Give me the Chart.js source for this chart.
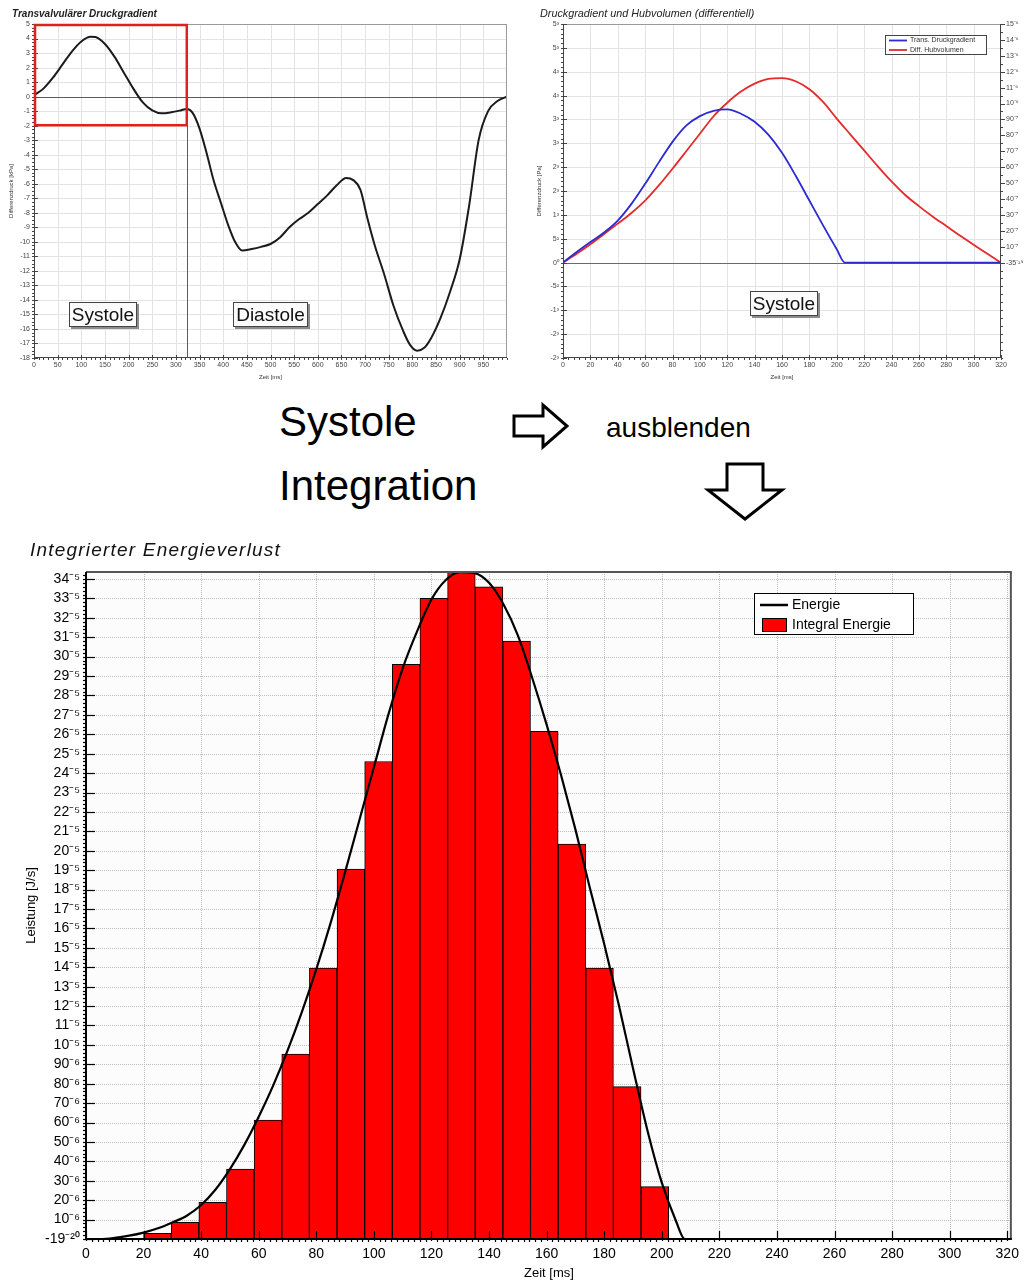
<!DOCTYPE html>
<html>
<head>
<meta charset="utf-8">
<script src="https://cdn.jsdelivr.net/npm/chart.js@4/dist/chart.umd.min.js"></script>
<style>
html,body{margin:0;padding:0;background:#ffffff;}
body{width:1026px;height:1281px;position:relative;overflow:hidden;font-family:"Liberation Sans",Arial,Helvetica,sans-serif;}
.pane{position:absolute;}
.mid{position:absolute;color:#000;font-family:"Liberation Sans",Arial,Helvetica,sans-serif;line-height:1;white-space:nowrap;}
svg{position:absolute;left:0;top:0;}
</style>
</head>
<body>
<div class="pane" style="left:0;top:0;width:520px;height:385px"><canvas id="c1"></canvas></div>
<div class="pane" style="left:530px;top:0;width:496px;height:385px"><canvas id="c2"></canvas></div>
<div class="mid" style="left:279px;top:401px;font-size:42px">Systole</div>
<div class="mid" style="left:279px;top:465px;font-size:42px">Integration</div>
<div class="mid" style="left:606px;top:414px;font-size:28px">ausblenden</div>
<svg width="1026" height="1281">
  <polygon points="514,416 543,416 543,405 567,426 543,447 543,436 514,436" fill="#fff" stroke="#000" stroke-width="3" stroke-linejoin="miter"/>
  <polygon points="727,464 763,464 763,490 782,490 745,519 708,490 727,490" fill="#fff" stroke="#000" stroke-width="3" stroke-linejoin="miter"/>
</svg>
<div class="pane" style="left:0;top:535px;width:1026px;height:746px"><canvas id="c3"></canvas></div>

<script>
// ================= DATA =================
// Chart 1: Transvalvulärer Druckgradient (kPa over ms)
const druckZeit = [0,20,40,60,80,100,120,130,150,170,190,210,230,250,270,290,310,323,335,350,365,380,395,410,425,440,460,480,500,520,540,560,580,600,620,640,660,675,690,705,720,740,760,780,795,810,825,840,860,880,900,920,940,960,980,1000];
const druckWert = [0.1,0.55,1.3,2.2,3.1,3.8,4.12,4.1,3.62,2.75,1.65,0.55,-0.4,-0.95,-1.15,-1.08,-0.95,-0.85,-1.1,-2.2,-3.9,-5.8,-7.3,-8.8,-10.0,-10.6,-10.5,-10.35,-10.15,-9.7,-9.0,-8.45,-8.0,-7.4,-6.8,-6.1,-5.6,-5.75,-6.4,-8.4,-10.2,-12.2,-14.4,-16.1,-17.1,-17.5,-17.3,-16.6,-15.2,-13.4,-11.2,-7.5,-3.0,-1.0,-0.3,0];
const druckXTicks = [0,50,100,150,200,250,300,350,400,450,500,550,600,650,700,750,800,850,900,950];
const druckYTicks = [-18,-17,-16,-15,-14,-13,-12,-11,-10,-9,-8,-7,-6,-5,-4,-3,-2,-1,0,1,2,3,4,5];
const systoleEnde = 323;

// Chart 2: Druckgradient und Hubvolumen (differentiell)
const gradientZeit = [0,10,20,30,40,50,60,70,80,90,100,110,120,130,140,150,160,170,180,190,200,206,320];
const gradientWert = [0,0.22,0.43,0.63,0.88,1.23,1.65,2.1,2.53,2.87,3.07,3.18,3.21,3.12,2.95,2.68,2.3,1.82,1.3,0.78,0.28,0,0];
const hubZeit = [0,10,20,30,40,50,60,70,80,90,100,110,120,130,140,150,160,170,180,190,200,210,220,230,240,250,260,270,280,290,300,310,320];
const hubvolumenWert = [0,0.55,1.15,1.8,2.45,3.12,3.9,4.85,5.9,7.0,8.1,9.2,10.05,10.75,11.25,11.55,11.6,11.4,10.9,10.1,9.05,8.05,7.05,6.05,5.1,4.25,3.55,2.9,2.3,1.7,1.12,0.55,0];
const hubXTicks = [0,20,40,60,80,100,120,140,160,180,200,220,240,260,280,300,320];
const hubLinksTicks = [-2,-1.5,-1,-0.5,0,0.5,1,1.5,2,2.5,3,3.5,4,4.5,5];
const hubLinksLabels = ["-2³","-2³","-1³","-5²","0⁰","5²","1³","2³","2³","3³","3³","4³","4³","5³","5³"];
const hubRechtsTicks = [0,1,2,3,4,5,6,7,8,9,10,11,12,13,14,15];
const hubRechtsLabels = ["-35⁻¹⁹","10⁻⁷","20⁻⁷","30⁻⁷","40⁻⁷","50⁻⁷","60⁻⁷","70⁻⁷","80⁻⁷","90⁻⁷","10⁻⁶","11⁻⁶","12⁻⁶","13⁻⁶","14⁻⁶","15⁻⁶"];

// Chart 3: Integrierter Energieverlust (values in axis units)
const energieZeit = [0,5,10,15,20,25,30,35,40,45,50,55,60,65,70,75,80,85,90,95,100,105,110,115,120,125,130,135,140,145,150,155,160,165,170,175,180,185,190,195,200,205,208,320];
const energieWert = [0,0,0.06,0.17,0.33,0.55,0.85,1.2,1.75,2.55,3.6,4.85,6.3,7.9,9.7,11.7,13.9,16.3,18.9,21.6,24.3,27.0,29.4,31.3,32.95,33.95,34.35,34.3,33.8,32.7,31.1,28.9,26.5,23.9,21.1,18.1,15.2,12.1,8.8,5.6,2.9,0.9,0,0];
const integralZeit = [24.8,34.4,44.0,53.6,63.2,72.8,82.4,92.0,101.6,111.2,120.8,130.4,140.0,149.6,159.2,168.8,178.4,188.0,197.6];
const integralWert = [0.29,0.86,1.89,3.6,6.13,9.53,13.95,19.05,24.6,29.6,33.0,34.4,33.6,30.8,26.15,20.35,13.95,7.85,2.7];
const energieXTicks = [0,20,40,60,80,100,120,140,160,180,200,220,240,260,280,300,320];
const energieYTicks = [0,1,2,3,4,5,6,7,8,9,10,11,12,13,14,15,16,17,18,19,20,21,22,23,24,25,26,27,28,29,30,31,32,33,34];
const energieYLabels = ["-19⁻²⁰","10⁻⁶","20⁻⁶","30⁻⁶","40⁻⁶","50⁻⁶","60⁻⁶","70⁻⁶","80⁻⁶","90⁻⁶","10⁻⁵","11⁻⁵","12⁻⁵","13⁻⁵","14⁻⁵","15⁻⁵","16⁻⁵","17⁻⁵","18⁻⁵","19⁻⁵","20⁻⁵","21⁻⁵","22⁻⁵","23⁻⁵","24⁻⁵","25⁻⁵","26⁻⁵","27⁻⁵","28⁻⁵","29⁻⁵","30⁻⁵","31⁻⁵","32⁻⁵","33⁻⁵","34⁻⁵"];

// ================= HELPERS =================
const FONT = '"Liberation Sans", Arial, Helvetica, sans-serif';
Chart.defaults.font.family = FONT;
Chart.defaults.animation = false;

function pts(xs, ys){ return xs.map((x,i)=>({x:x, y:ys[i]})); }
function setTicks(list){ return s => { s.ticks = list.map(v=>({value:v})); }; }

function hLine(ctx, x1, x2, y){ ctx.beginPath(); ctx.moveTo(x1, y); ctx.lineTo(x2, y); ctx.stroke(); }
function vLine(ctx, x, y1, y2){ ctx.beginPath(); ctx.moveTo(x, y1); ctx.lineTo(x, y2); ctx.stroke(); }

function drawGrid(ctx, a, xs, ys, color, dash){
  ctx.save(); ctx.strokeStyle = color; ctx.lineWidth = 1; ctx.setLineDash(dash);
  xs.ticks.forEach(t=>{ const p = Math.round(xs.getPixelForValue(t.value))+0.5; if (p > a.left+1 && p < a.right-1) vLine(ctx, p, a.top, a.bottom); });
  ys.ticks.forEach(t=>{ const p = Math.round(ys.getPixelForValue(t.value))+0.5; if (p > a.top+1 && p < a.bottom-1) hLine(ctx, a.left, a.right, p); });
  ctx.restore();
}

function drawRuler(ctx, scale, side, axisPx, minorStep, majIn, majOut, minIn, minOut, color, width){
  ctx.save(); ctx.strokeStyle = color; ctx.lineWidth = width; ctx.setLineDash([]);
  const majors = scale.ticks.map(t=>t.value);
  const n = Math.round((scale.max - scale.min)/minorStep);
  for (let i=0;i<=n;i++){
    const v = scale.min + i*minorStep;
    if (v > scale.max + 1e-9) break;
    const isMajor = majors.some(m=>Math.abs(m-v) < minorStep/10);
    const inn = isMajor ? majIn : minIn, out = isMajor ? majOut : minOut;
    const p = Math.round(scale.getPixelForValue(v)) + 0.5;
    if (side === 'left') hLine(ctx, axisPx - out, axisPx + inn, p);
    else if (side === 'right') hLine(ctx, axisPx - inn, axisPx + out, p);
    else vLine(ctx, p, axisPx - inn, axisPx + out);
  }
  ctx.restore();
}

function labelBox(ctx, text, cx, cy, size, h){
  ctx.save();
  ctx.font = size + 'px ' + FONT;
  const w = Math.round(ctx.measureText(text).width + 6);
  const x = Math.round(cx - w/2), y = Math.round(cy - h/2);
  ctx.fillStyle = '#8c8c8c'; ctx.fillRect(x+2, y+2, w, h);
  ctx.fillStyle = '#fbfbfb'; ctx.fillRect(x, y, w, h);
  ctx.strokeStyle = '#444'; ctx.lineWidth = 1; ctx.strokeRect(x+0.5, y+0.5, w-1, h-1);
  ctx.fillStyle = '#111'; ctx.textAlign = 'center'; ctx.textBaseline = 'middle';
  ctx.fillText(text, x + w/2, y + h/2 + 1);
  ctx.restore();
}

function heading(text, x, y, font, color, spacing){
  return { id: 'heading', afterDraw(chart){
    const ctx = chart.ctx; ctx.save(); ctx.font = font; ctx.fillStyle = color;
    if (spacing) ctx.letterSpacing = spacing;
    ctx.textAlign = 'left'; ctx.textBaseline = 'middle'; ctx.fillText(text, x, y); ctx.restore(); } };
}

const baseScale = { grid:{display:false, drawTicks:false}, border:{display:false} };

// ================= CHART 1 =================
new Chart(document.getElementById('c1'), {
  type: 'line',
  data: { datasets: [{ label: 'Transvalvulärer Druckgradient', data: pts(druckZeit, druckWert), borderColor: '#1b1b1b', borderWidth: 2, pointRadius: 0, tension: 0.4, cubicInterpolationMode: 'monotone' }] },
  options: {
    responsive: true, maintainAspectRatio: false, animation: false,
    layout: { padding: { left: 4, right: 13, top: 24, bottom: 0 } },
    plugins: { legend: { display: false }, tooltip: { enabled: false } },
    scales: {
      x: { type: 'linear', min: 0, max: 1000, ...baseScale,
        afterBuildTicks: setTicks(druckXTicks), afterFit: s => { s.height = 27; },
        ticks: { autoSkip: false, maxRotation: 0, padding: 3, color: '#444', font: { size: 7 } },
        title: { display: true, text: 'Zeit [ms]', color: '#333', font: { size: 6 }, padding: { top: 0, bottom: 4 } } },
      y: { type: 'linear', min: -18, max: 5, ...baseScale,
        afterBuildTicks: setTicks(druckYTicks), afterFit: s => { s.width = 30; },
        ticks: { autoSkip: false, padding: 4, color: '#444', font: { size: 7 } },
        title: { display: true, text: 'Differenzdruck [kPa]', color: '#333', font: { size: 6 }, padding: { top: 4, bottom: 0 } } }
    }
  },
  plugins: [
    heading('Transvalvulärer Druckgradient', 12, 14, 'italic bold 10px ' + FONT, '#222'),
    {
      id: 'frame1',
      beforeDatasetsDraw(chart){
        const {ctx, chartArea: a, scales: {x, y}} = chart;
        drawGrid(ctx, a, x, y, '#e3e3e3', []);
        ctx.save(); ctx.strokeStyle = '#5a5a5a'; ctx.lineWidth = 1;
        hLine(ctx, a.left, a.right, Math.round(y.getPixelForValue(0))+0.5);
        vLine(ctx, Math.round(x.getPixelForValue(systoleEnde))+0.5, a.top, a.bottom);
        ctx.restore();
      },
      afterDatasetsDraw(chart){
        const {ctx, chartArea: a, scales: {x, y}} = chart;
        ctx.save();
        ctx.strokeStyle = '#9a9a9a'; ctx.lineWidth = 1;
        hLine(ctx, a.left, a.right, a.top + 0.5); vLine(ctx, a.right - 0.5, a.top, a.bottom);
        ctx.strokeStyle = '#444';
        vLine(ctx, a.left + 0.5, a.top, a.bottom); hLine(ctx, a.left, a.right, a.bottom - 0.5);
        ctx.restore();
        drawRuler(ctx, y, 'left', a.left, 0.25, 4, 2, 0, 2, '#444', 1);
        drawRuler(ctx, x, 'bottom', a.bottom, 10, 3, 2, 0, 2, '#444', 1);
        ctx.save(); ctx.strokeStyle = '#e0201c'; ctx.lineWidth = 2.5;
        const x1 = x.getPixelForValue(0), x2 = x.getPixelForValue(systoleEnde);
        const y1 = y.getPixelForValue(5), y2 = y.getPixelForValue(-1.9);
        ctx.strokeRect(x1 + 1, y1 + 1, x2 - x1 - 1, y2 - y1);
        ctx.restore();
        labelBox(ctx, 'Systole', x.getPixelForValue(146), y.getPixelForValue(-15), 19, 25);
        labelBox(ctx, 'Diastole', x.getPixelForValue(500), y.getPixelForValue(-15), 19, 25);
      }
    }
  ]
});

// ================= CHART 2 =================
new Chart(document.getElementById('c2'), {
  type: 'line',
  data: { datasets: [
    { label: 'Trans. Druckgradient', data: pts(gradientZeit, gradientWert), yAxisID: 'y', borderColor: '#2b2bd0', borderWidth: 1.8, pointRadius: 0, tension: 0.4, cubicInterpolationMode: 'monotone' },
    { label: 'Diff. Hubvolumen', data: pts(hubZeit, hubvolumenWert), yAxisID: 'y2', borderColor: '#e42a2a', borderWidth: 1.8, pointRadius: 0, tension: 0.4, cubicInterpolationMode: 'monotone' }
  ] },
  options: {
    responsive: true, maintainAspectRatio: false, animation: false,
    layout: { padding: { left: 3, right: 2, top: 24, bottom: 0 } },
    plugins: { legend: { display: false }, tooltip: { enabled: false } },
    scales: {
      x: { type: 'linear', min: 0, max: 320, ...baseScale,
        afterBuildTicks: setTicks(hubXTicks), afterFit: s => { s.height = 27; },
        ticks: { autoSkip: false, maxRotation: 0, padding: 3, color: '#444', font: { size: 7 } },
        title: { display: true, text: 'Zeit [ms]', color: '#333', font: { size: 6 }, padding: { top: 0, bottom: 4 } } },
      y: { type: 'linear', position: 'left', min: -2, max: 5, ...baseScale,
        afterBuildTicks: setTicks(hubLinksTicks), afterFit: s => { s.width = 30; },
        ticks: { autoSkip: false, padding: 4, color: '#444', font: { size: 7 }, callback: (v, i) => hubLinksLabels[i] },
        title: { display: true, text: 'Differenzdruck [Pa]', color: '#333', font: { size: 6 }, padding: { top: 3, bottom: 0 } } },
      y2: { type: 'linear', position: 'right', min: -6, max: 15, ...baseScale,
        afterBuildTicks: setTicks(hubRechtsTicks), afterFit: s => { s.width = 23; },
        ticks: { autoSkip: false, padding: 5, color: '#444', font: { size: 7 }, callback: (v, i) => hubRechtsLabels[i] } }
    }
  },
  plugins: [
    heading('Druckgradient und Hubvolumen (differentiell)', 10, 14, 'italic 10.8px ' + FONT, '#222'),
    {
      id: 'frame2',
      beforeDatasetsDraw(chart){
        const {ctx, chartArea: a, scales: {x, y}} = chart;
        drawGrid(ctx, a, x, y, '#e3e3e3', []);
        ctx.save(); ctx.strokeStyle = '#6a6a6a'; ctx.lineWidth = 1;
        hLine(ctx, a.left, a.right, Math.round(y.getPixelForValue(0))+0.5);
        ctx.restore();
      },
      afterDatasetsDraw(chart){
        const {ctx, chartArea: a, scales: {x, y, y2}} = chart;
        ctx.save();
        ctx.strokeStyle = '#9a9a9a'; ctx.lineWidth = 1;
        hLine(ctx, a.left, a.right, a.top + 0.5);
        ctx.strokeStyle = '#444';
        vLine(ctx, a.left + 0.5, a.top, a.bottom); hLine(ctx, a.left, a.right, a.bottom - 0.5);
        vLine(ctx, a.right - 0.5, a.top, a.bottom);
        ctx.restore();
        drawRuler(ctx, y, 'left', a.left, 0.1, 4, 2, 0, 2, '#444', 1);
        drawRuler(ctx, y2, 'right', a.right, 0.5, 0, 4, 0, 2, '#444', 1);
        drawRuler(ctx, x, 'bottom', a.bottom, 4, 3, 2, 0, 2, '#444', 1);
        const ds = chart.data.datasets;
        const lw = 102, lh = 20, lx = Math.round(a.right - 14 - lw), ly = Math.round(a.top + 11);
        ctx.save();
        ctx.fillStyle = '#fff'; ctx.fillRect(lx, ly, lw, lh);
        ctx.strokeStyle = '#444'; ctx.lineWidth = 1; ctx.strokeRect(lx + 0.5, ly + 0.5, lw - 1, lh - 1);
        ctx.font = '7px ' + FONT; ctx.textBaseline = 'middle'; ctx.textAlign = 'left';
        ds.forEach((d, i) => {
          const yy = ly + 5.5 + i * 9.5;
          ctx.strokeStyle = d.borderColor; ctx.lineWidth = 1.8; hLine(ctx, lx + 4, lx + 22, yy);
          ctx.fillStyle = '#333'; ctx.fillText(d.label, lx + 25, yy);
        });
        ctx.restore();
        labelBox(ctx, 'Systole', x.getPixelForValue(161.8), y.getPixelForValue(-0.85), 19, 25);
      }
    }
  ]
});

// ================= CHART 3 =================
new Chart(document.getElementById('c3'), {
  type: 'bar',
  data: { datasets: [
    { type: 'line', label: 'Energie', data: pts(energieZeit, energieWert), borderColor: '#000', backgroundColor: '#000', borderWidth: 2.2, pointRadius: 0, tension: 0.4, cubicInterpolationMode: 'monotone', order: 0 },
    { type: 'bar', label: 'Integral Energie', data: pts(integralZeit, integralWert), backgroundColor: '#ff0000', borderColor: '#000', borderWidth: 1, categoryPercentage: 1, barPercentage: 1, order: 1 }
  ] },
  options: {
    responsive: true, maintainAspectRatio: false, animation: false,
    layout: { padding: { left: 0, right: 14, top: 37, bottom: 0 } },
    plugins: { legend: { display: false }, tooltip: { enabled: false } },
    scales: {
      x: { type: 'linear', min: 0, max: 321.6, offset: false, ...baseScale, grid: { display: false, drawTicks: false, offset: false },
        afterBuildTicks: setTicks(energieXTicks), afterFit: s => { s.height = 42; },
        ticks: { autoSkip: false, maxRotation: 0, padding: 7, color: '#000', font: { size: 14 } },
        title: { display: true, text: 'Zeit [ms]', color: '#000', font: { size: 13 }, padding: { top: 0, bottom: 0 } } },
      y: { type: 'linear', min: 0, max: 34.36, ...baseScale,
        afterBuildTicks: setTicks(energieYTicks), afterFit: s => { s.width = 86; },
        ticks: { autoSkip: false, padding: 6, color: '#000', font: { size: 14 }, callback: (v, i) => energieYLabels[i] },
        title: { display: true, text: 'Leistung [J/s]', color: '#000', font: { size: 13 }, padding: { top: 24, bottom: 0 } } }
    }
  },
  plugins: [
    heading('Integrierter Energieverlust', 30, 16, 'italic 19px ' + FONT, '#111', '1.2px'),
    {
      id: 'frame3',
      beforeDatasetsDraw(chart){
        const {ctx, chartArea: a, scales: {x, y}} = chart;
        ctx.save(); ctx.fillStyle = '#fbfcfb'; ctx.fillRect(a.left, a.top, a.right - a.left, a.bottom - a.top); ctx.restore();
        drawGrid(ctx, a, x, y, '#bdbdbd', [1, 1]);
      },
      afterDatasetsDraw(chart){
        const {ctx, chartArea: a, scales: {x, y}} = chart;
        ctx.save();
        ctx.strokeStyle = '#555'; ctx.lineWidth = 2;
        hLine(ctx, a.left, a.right, a.top); vLine(ctx, a.right - 1, a.top, a.bottom);
        ctx.strokeStyle = '#000';
        vLine(ctx, a.left, a.top, a.bottom + 1); hLine(ctx, a.left - 1, a.right, a.bottom);
        ctx.restore();
        drawRuler(ctx, y, 'left', a.left, 0.2, 9, 3, 0, 3, '#000', 1.2);
        drawRuler(ctx, x, 'bottom', a.bottom, 2, 8, 2, 0, 3, '#000', 1.2);
        const ds = chart.data.datasets;
        const lw = 160, lh = 42, lx = Math.round(a.right - 98 - lw), ly = Math.round(a.top + 21);
        ctx.save();
        ctx.fillStyle = '#fff'; ctx.fillRect(lx, ly, lw, lh);
        ctx.strokeStyle = '#000'; ctx.lineWidth = 1; ctx.strokeRect(lx + 0.5, ly + 0.5, lw - 1, lh - 1);
        ctx.font = '14px ' + FONT; ctx.textBaseline = 'middle'; ctx.textAlign = 'left';
        ctx.strokeStyle = ds[0].borderColor; ctx.lineWidth = 2.5; hLine(ctx, lx + 6, lx + 34, ly + 12);
        ctx.fillStyle = '#000'; ctx.fillText(ds[0].label, lx + 38, ly + 12);
        ctx.fillStyle = ds[1].backgroundColor; ctx.fillRect(lx + 8, ly + 25, 25, 14);
        ctx.strokeStyle = '#000'; ctx.lineWidth = 1; ctx.strokeRect(lx + 8.5, ly + 25.5, 24, 13);
        ctx.fillStyle = '#000'; ctx.fillText(ds[1].label, lx + 38, ly + 32);
        ctx.restore();
      }
    }
  ]
});
</script>
</body>
</html>
